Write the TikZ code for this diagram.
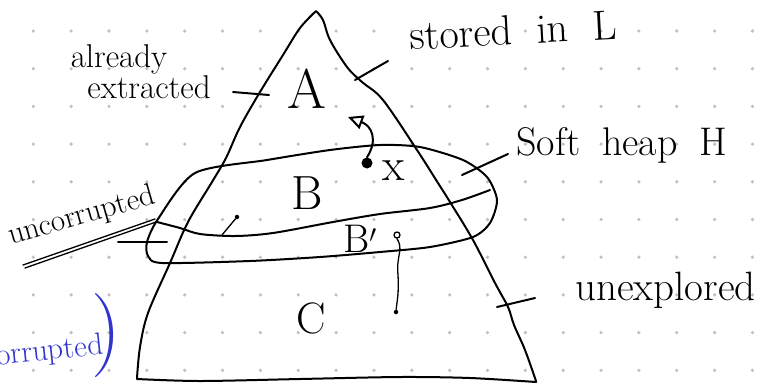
\documentclass[tikz,border=0pt]{standalone}
\usetikzlibrary{arrows.meta}
\definecolor{gridgray}{RGB}{192,192,192}
\definecolor{penblue}{RGB}{48,52,205}

\begin{document}
\begin{tikzpicture}[x=1pt, y=-1pt,
  pen/.style={line width=2pt, line cap=round, line join=round},
  thin pen/.style={pen, line width=1.3pt},
  word/.style={inner sep=0pt, font=\fontsize{#1}{#1}\selectfont},
  word/.default=33,
  region/.style={inner sep=0pt, anchor=base, font=\fontsize{#1}{#1}\selectfont},
  blob/.style={fill=black, inner sep=0pt, minimum size=#1, circle},
  blob/.default=4pt]
\useasboundingbox (0,0) rectangle (776,384);
% dotted paper
\foreach \i in {0,...,19}
  \foreach \j in {0,...,9}
    \fill[gridgray] ({33.3+37.85*\i},{31+37.7*\j}) circle (1.8pt);

% the big triangle
\draw[pen] plot[smooth, tension=.55] coordinates {(316,11) (300,28) (283,55)
    (260,92) (240,127) (226,158) (212,182) (188,222) (170,263) (148,313)
    (140,347) (137,378)}
  -- plot[smooth, tension=.5] coordinates {(137,379) (200,381) (300,379)
    (400,377) (470,378) (536,382)}
  -- plot[smooth, tension=.55] coordinates {(536,381) (525,350) (514,325)
    (508,307) (495,283) (473,240) (450,202) (438,183) (417,150) (383,100)
    (362,82) (347,67) (330,40) (323,20) (316,11)};

% soft heap loop and the B / B' split
\draw[pen] plot[smooth cycle, tension=.45] coordinates {(195,173) (267,160)
  (330,150) (380,145) (420,147) (463,160) (487,177) (497,200) (490,223)
  (473,237) (430,247) (380,252) (320,257) (250,261) (162,263) (148,256)
  (147,242) (158,219)};
\draw[pen] plot[smooth, tension=.5] coordinates {(157,222) (180,228)
  (200,234) (235,236) (273,233) (333,222) (380,214) (430,208) (462,200)
  (490,190)};

% region letters
\node[region=56] (A) at (307,108) {A};
\node[region=48] (B) at (307,209) {B};
\node[region=40] (Bp) at (360,252) {B$'$};
\node[region=44] (C) at (311,333) {C};

% element x and where it goes
\node[blob=11pt] (xdot) at (367,163) {};
\node[region=46] (x) at (394,180) {x};
\coordinate (xtop) at (348,117);
\draw[pen, -{Triangle[open, length=15pt, width=14pt]}] (xdot.north)
  .. controls (378,140) and (372,126) .. (xtop);

% B' element sinking into C
\node[draw, thin pen, circle, inner sep=0pt, minimum size=6pt] (bpo) at (397,235) {};
\node[blob=4.5pt] (bpend) at (396,312) {};
\draw[thin pen] (bpo.south) .. controls (404,250) and (396,255) .. (398,275)
  .. controls (399,295) and (397,300) .. (bpend);

% leader inside the loop
\node[blob=4.5pt] (ldot) at (237,217) {};
\coordinate (lfoot) at (222,235);
\draw[thin pen] (lfoot) -- (ldot);

% side labels with their ticks
\node[word, anchor=base] (already) at (119,67) {already};
\node[word, anchor=base] (extracted) at (149,98) {extracted};
\coordinate (aa) at (233,92);  \coordinate (ab) at (269,95);
\draw[pen] (aa) -- (ab);

\node[word=42, anchor=base west, rotate=3] (stored) at (410,50) {stored\hspace{12pt} in\hspace{12pt} L};
\coordinate (sa) at (355,80);  \coordinate (sb) at (388,61);
\draw[pen] (sa) -- (sb);

\node[word=40, anchor=base west] (heap) at (516,155) {Soft\hspace{10pt} heap\hspace{10pt} H};
\coordinate (ha) at (462,175); \coordinate (hb) at (508,154);
\draw[pen] (ha) -- (hb);

\node[word=41, anchor=base west] (unexp) at (575,300) {unexplored};
\coordinate (ua) at (497,307); \coordinate (ub) at (535,298);
\draw[pen] (ua) -- (ub);

\node[word=31, anchor=base west, rotate=16] (uncorr) at (11,245) {uncorrupted};
\coordinate (ca) at (118,242); \coordinate (cb) at (167,242);
\draw[pen] (ca) -- (cb);
\draw[thin pen] (23,265) -- (155,219);
\draw[thin pen] (25,268) -- (156,222);

% blue note, cut at the edge
\node[word=31, anchor=base east, rotate=6, text=penblue] (corr) at (104,354) {corrupted};
\node[word=84, text=penblue] (paren) at (106,336) {)};
\end{tikzpicture}
\end{document}
